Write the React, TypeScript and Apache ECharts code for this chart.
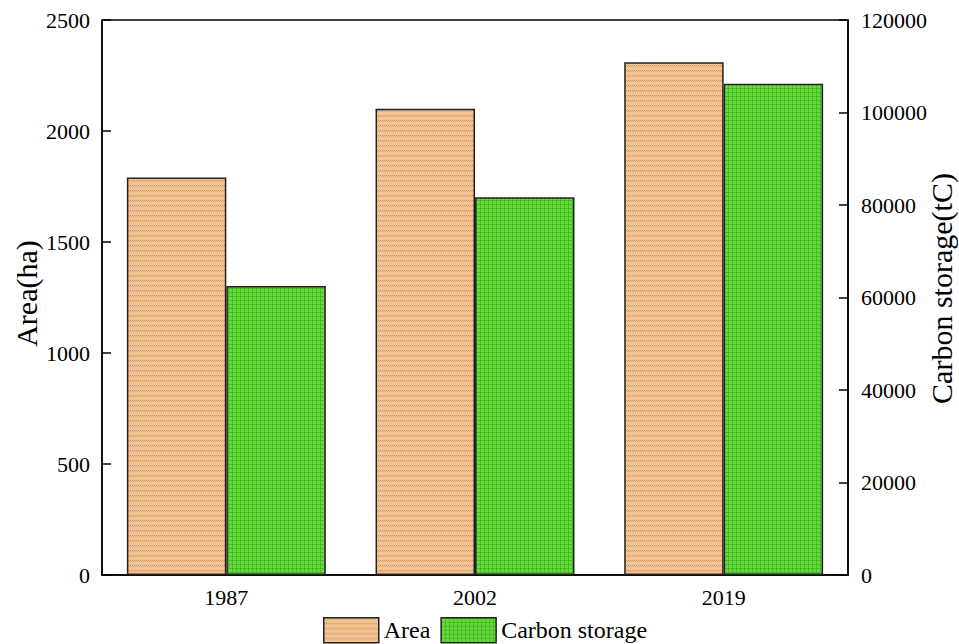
import React, { useEffect, useRef } from "react";
import * as echarts from "echarts";

const years = ["1987", "2002", "2019"];
const areaHa = [1790, 2100, 2310];
const carbonTC = [62500, 81700, 106200];

const FONT = "'Liberation Serif', 'Times New Roman', serif";

// Tan fill with thin checkered horizontal stripes
function stripePattern(): string {
  const c = document.createElement("canvas");
  c.width = 4;
  c.height = 5;
  const g = c.getContext("2d")!;
  g.fillStyle = "#f6c38f";
  g.fillRect(0, 0, 4, 5);
  g.fillStyle = "#bf9674";
  g.fillRect(0, 0, 1, 1);
  g.fillRect(2, 0, 1, 1);
  g.fillStyle = "#d5a982";
  g.fillRect(1, 1, 1, 1);
  g.fillRect(3, 1, 1, 1);
  return c.toDataURL();
}

// Bright green fill with a fine darker grid
function gridPattern(): string {
  const c = document.createElement("canvas");
  c.width = 4;
  c.height = 4;
  const g = c.getContext("2d")!;
  g.fillStyle = "#66dc38";
  g.fillRect(0, 0, 4, 4);
  g.fillStyle = "#48b82c";
  g.fillRect(0, 0, 4, 1);
  g.fillRect(0, 0, 1, 4);
  return c.toDataURL();
}

const plain = (v: number) => String(v);

export default function App() {
  const ref = useRef<HTMLDivElement>(null);

  useEffect(() => {
    document.body.style.margin = "0";
    const chart = echarts.init(ref.current!, undefined, { renderer: "svg" });
    const areaFill = { image: stripePattern(), repeat: "repeat" };
    const carbonFill = { image: gridPattern(), repeat: "repeat" };

    chart.setOption({
      animation: false,
      backgroundColor: "#ffffff",
      textStyle: { fontFamily: FONT, color: "#000" },
      grid: {
        left: 102,
        right: 111,
        top: 20,
        bottom: 69,
        containLabel: false,
        outerBoundsMode: "none",
        show: true,
        borderColor: "#000",
        borderWidth: 1.5,
        backgroundColor: "transparent",
      },
      legend: {
        left: 318,
        top: 612,
        itemWidth: 55,
        itemHeight: 25,
        itemGap: 10,
        icon: "rect",
        textStyle: { fontFamily: FONT, fontSize: 24, color: "#000" },
        data: [
          { name: "Area", itemStyle: { color: areaFill, borderColor: "#222", borderWidth: 1.5 } },
          { name: "Carbon storage", itemStyle: { color: carbonFill, borderColor: "#222", borderWidth: 1.5 } },
        ],
      },
      xAxis: {
        type: "category",
        data: years,
        axisLine: { lineStyle: { color: "#000", width: 1.5 } },
        axisTick: { show: false },
        axisLabel: { fontFamily: FONT, fontSize: 22, color: "#000", margin: 11 },
      },
      yAxis: [
        {
          type: "value",
          min: 0,
          max: 2500,
          interval: 500,
          name: "Area(ha)",
          nameLocation: "middle",
          nameGap: 61,
          nameMoveOverlap: false,
          nameTextStyle: { fontFamily: FONT, fontSize: 30, color: "#000", padding: [0, 0, 0, 8] },
          axisLine: { show: true, lineStyle: { color: "#000", width: 1.5 } },
          axisTick: { show: true, inside: true, length: 9, lineStyle: { color: "#000", width: 1.5 } },
          axisLabel: { fontFamily: FONT, fontSize: 22, color: "#000", margin: 12, formatter: plain },
          splitLine: { show: false },
        },
        {
          type: "value",
          min: 0,
          max: 120000,
          interval: 20000,
          name: "Carbon storage(tC)",
          nameLocation: "middle",
          nameGap: 78,
          nameMoveOverlap: false,
          nameTextStyle: { fontFamily: FONT, fontSize: 30, color: "#000", padding: [0, 0, 0, 18] },
          axisLine: { show: true, lineStyle: { color: "#000", width: 1.5 } },
          axisTick: { show: true, inside: true, length: 9, lineStyle: { color: "#000", width: 1.5 } },
          axisLabel: { fontFamily: FONT, fontSize: 22, color: "#000", margin: 13, formatter: plain },
          splitLine: { show: false },
        },
      ],
      series: [
        {
          name: "Area",
          type: "bar",
          yAxisIndex: 0,
          data: areaHa,
          barGap: "0%",
          barCategoryGap: "20%",
          itemStyle: { color: areaFill, borderColor: "#222", borderWidth: 1.5 },
        },
        {
          name: "Carbon storage",
          type: "bar",
          yAxisIndex: 1,
          data: carbonTC,
          barGap: "0%",
          barCategoryGap: "20%",
          itemStyle: { color: carbonFill, borderColor: "#222", borderWidth: 1.5 },
        },
      ],
    });

    return () => chart.dispose();
  }, []);

  return <div ref={ref} style={{ width: 959, height: 644 }} />;
}
